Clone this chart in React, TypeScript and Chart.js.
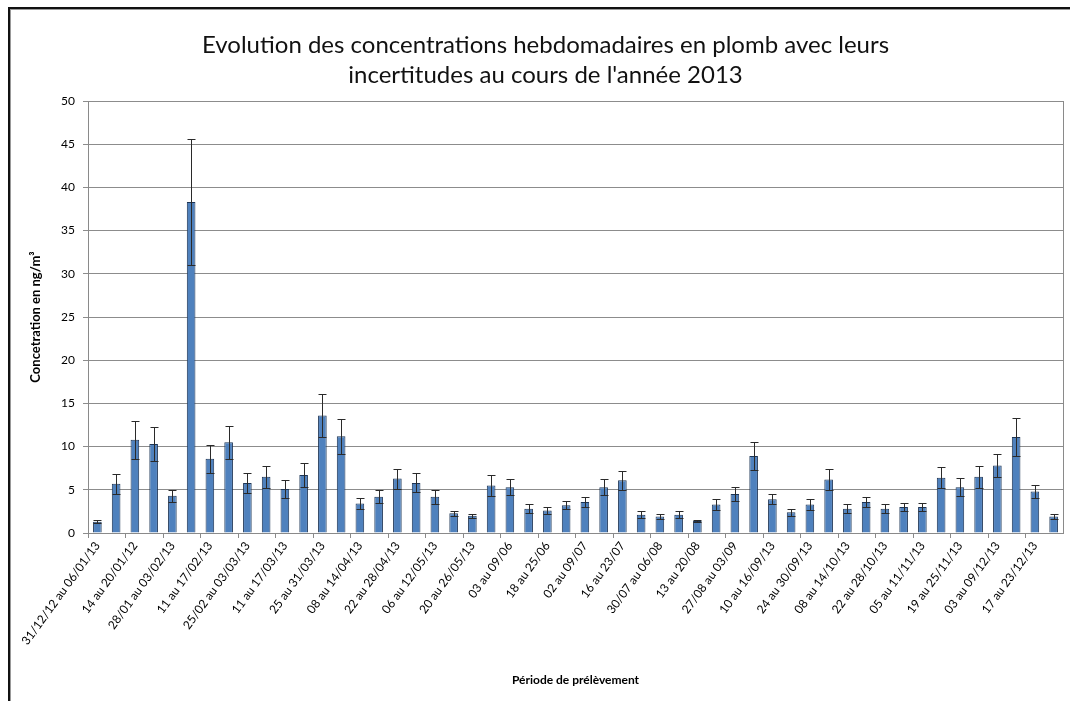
import React, { useEffect, useRef } from "react";
import { Chart, registerables } from "chart.js";

Chart.register(...registerables);

const periods: string[] = [
  "31/12/12 au 06/01/13", "07 au 13/01/13", "14 au 20/01/12", "21 au 27/01/13",
  "28/01 au 03/02/13", "04 au 10/02/13", "11 au 17/02/13", "18 au 24/02/13",
  "25/02 au 03/03/13", "04 au 10/03/13", "11 au 17/03/13", "18 au 24/03/13",
  "25 au 31/03/13", "01 au 07/04/13", "08 au 14/04/13", "15 au 21/04/13",
  "22 au 28/04/13", "29/04 au 05/05/13", "06 au 12/05/13", "13 au 19/05/13",
  "20 au 26/05/13", "27/05 au 02/06", "03 au 09/06", "10 au 17/06",
  "18 au 25/06", "25/06 au 02/07", "02 au 09/07", "09 au 16/07",
  "16 au 23/07", "23 au 30/07", "30/07 au 06/08", "06 au 13/08",
  "13 au 20/08", "20 au 27/08", "27/08 au 03/09", "03 au 09/09/13",
  "10 au 16/09/13", "17 au 23/09/13", "24 au 30/09/13", "01 au 07/10/13",
  "08 au 14/10/13", "15 au 21/10/13", "22 au 28/10/13", "29/10 au 04/11/13",
  "05 au 11/11/13", "12 au 18/11/13", "19 au 25/11/13", "26/11 au 02/12/13",
  "03 au 09/12/13", "10 au 16/12/13", "17 au 23/12/13", "24 au 30/12/13",
];

const concentrations: number[] = [
  1.3, 5.7, 10.8, 10.3, 4.3, 38.3, 8.6, 10.5, 5.8, 6.5,
  5.1, 6.7, 13.6, 11.2, 3.4, 4.2, 6.3, 5.8, 4.2, 2.3,
  2.0, 5.5, 5.3, 2.8, 2.6, 3.2, 3.6, 5.3, 6.1, 2.1,
  1.9, 2.1, 1.4, 3.3, 4.5, 8.9, 3.9, 2.4, 3.3, 6.2,
  2.8, 3.6, 2.8, 3.0, 3.0, 6.4, 5.3, 6.5, 7.8, 11.1,
  4.8, 1.9,
];

const uncertainties: number[] = [
  0.15, 1.15, 2.2, 2.0, 0.7, 7.3, 1.6, 1.9, 1.2, 1.3,
  1.0, 1.35, 2.5, 2.05, 0.6, 0.75, 1.15, 1.1, 0.8, 0.3,
  0.25, 1.2, 0.9, 0.5, 0.45, 0.45, 0.6, 0.9, 1.1, 0.4,
  0.3, 0.4, 0.15, 0.6, 0.8, 1.6, 0.6, 0.4, 0.6, 1.25,
  0.5, 0.6, 0.5, 0.45, 0.45, 1.2, 1.05, 1.3, 1.35, 2.2,
  0.7, 0.25,
];

const titleLines: string[] = [
  "Evolution des concentrations hebdomadaires en plomb avec leurs",
  "incertitudes au cours de l'année 2013",
];
const yTitle = "Concetration en ng/m³";
const xTitle = "Période de prélèvement";

const FONT = "Lato, 'Open Sans', sans-serif";

const errorBarPlugin = {
  id: "errorBars",
  afterDatasetsDraw(chart: any) {
    const { ctx, chartArea } = chart;
    const meta = chart.getDatasetMeta(0);
    const yScale = chart.scales.y;
    ctx.save();
    ctx.strokeStyle = "#2a2a2a";
    ctx.lineWidth = 1;
    meta.data.forEach((bar: any, i: number) => {
      const v = concentrations[i];
      const e = uncertainties[i];
      const x = Math.round(bar.x) + 0.5;
      const yTop = Math.round(yScale.getPixelForValue(v + e)) + 0.5;
      const yBot = Math.round(yScale.getPixelForValue(v - e)) + 0.5;
      ctx.beginPath();
      ctx.moveTo(x, yTop);
      ctx.lineTo(x, yBot);
      ctx.moveTo(x - 4, yTop);
      ctx.lineTo(x + 4, yTop);
      ctx.moveTo(x - 4, yBot);
      ctx.lineTo(x + 4, yBot);
      ctx.stroke();
    });
    // right plot border
    ctx.strokeStyle = "#8a8a8a";
    ctx.beginPath();
    ctx.moveTo(Math.round(chartArea.right) + 0.5, chartArea.top);
    ctx.lineTo(Math.round(chartArea.right) + 0.5, chartArea.bottom);
    ctx.stroke();
    ctx.restore();
  },
};

export default function App() {
  const canvasRef = useRef<HTMLCanvasElement | null>(null);

  useEffect(() => {
    document.body.style.margin = "0";
    document.body.style.overflow = "hidden";
    const canvas = canvasRef.current;
    if (!canvas) return;
    const chart = new Chart(canvas, {
      type: "bar",
      data: {
        labels: periods,
        datasets: [
          {
            data: concentrations,
            backgroundColor: "#4F81BD",
            borderColor: "#1d3556",
            borderWidth: 1,
            barPercentage: 0.46,
            categoryPercentage: 1,
          },
        ],
      },
      options: {
        animation: false,
        responsive: false,
        maintainAspectRatio: false,
        layout: { padding: { left: 28, right: 7, top: 8, bottom: 10 } },
        plugins: {
          legend: { display: false },
          tooltip: { enabled: false },
          title: {
            display: true,
            text: titleLines,
            color: "#111",
            font: { family: FONT, size: 24, weight: "normal", lineHeight: 1.25 },
            padding: { top: 22, bottom: 11 },
          },
        },
        scales: {
          x: {
            offset: true,
            afterFit: (scale: any) => {
              scale.height = 158;
            },
            grid: {
              drawOnChartArea: false,
              drawTicks: true,
              tickLength: 5,
              offset: true,
              color: (ctx: any) => (ctx.index % 2 === 0 ? "#8a8a8a" : "rgba(0,0,0,0)"),
            },
            border: { color: "#8a8a8a" },
            ticks: {
              autoSkip: false,
              minRotation: 54,
              maxRotation: 54,
              color: "#000",
              padding: 1,
              font: { family: FONT, size: 12 },
              callback: (_v: any, i: number) => (i % 2 === 0 ? periods[i] : ""),
            },
            title: {
              display: true,
              text: xTitle,
              color: "#000",
              font: { family: FONT, size: 12, weight: "bold" },
              padding: { top: 0, bottom: 4 },
            },
          },
          y: {
            min: 0,
            max: 50,
            afterFit: (scale: any) => {
              scale.width = 60;
            },
            ticks: {
              stepSize: 5,
              color: "#000",
              padding: 8,
              font: { family: FONT, size: 12 },
            },
            grid: {
              color: "#8c8c8c",
              tickLength: 5,
              drawTicks: true,
            },
            border: { color: "#8a8a8a" },
            title: {
              display: true,
              text: yTitle,
              color: "#000",
              font: { family: FONT, size: 13, weight: "bold" },
              padding: { top: 0, bottom: 0 },
            },
          },
        },
      },
      plugins: [errorBarPlugin],
    } as any);
    return () => chart.destroy();
  }, []);

  return (
    <div style={{ position: "fixed", left: 0, top: 0, width: 1070, height: 701, background: "#fff" }}>
      <canvas ref={canvasRef} width={1070} height={701} style={{ position: "absolute", left: 0, top: 0 }} />
      <div
        style={{
          position: "absolute",
          left: 8,
          top: 7,
          width: 1070,
          height: 701,
          borderLeft: "2px solid #111",
          borderTop: "2px solid #111",
          boxShadow: "inset 1px 1px 0 #999",
          pointerEvents: "none",
        }}
      />
    </div>
  );
}
